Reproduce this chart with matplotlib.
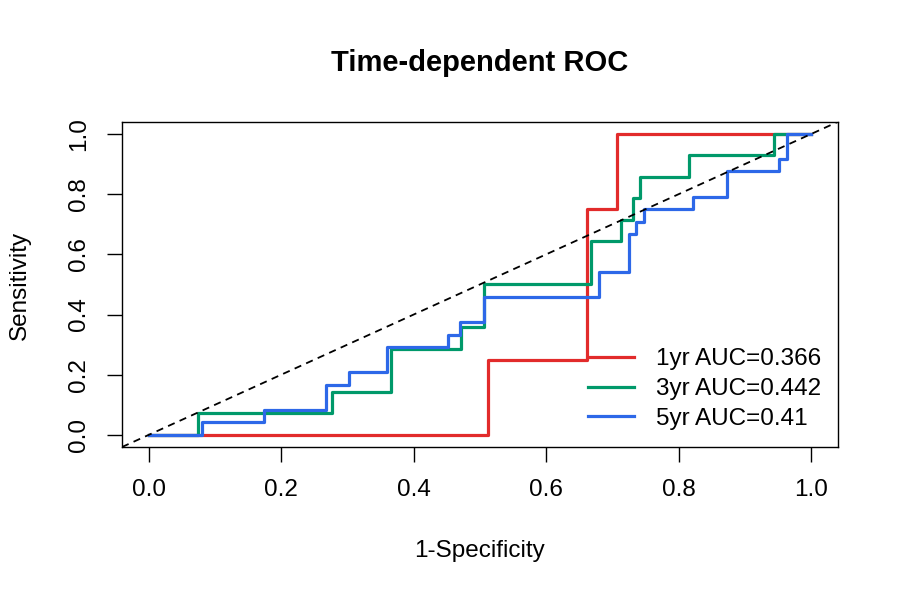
import matplotlib
matplotlib.use("Agg")
import matplotlib.pyplot as plt

plt.rcParams['font.family'] = ['Liberation Sans', 'DejaVu Sans']

# step points of each ROC curve (false positive rate, true positive rate)
fpr_1yr = [0.0, 0.512, 0.661, 0.706, 1.0]
tpr_1yr = [0.0, 0.25, 0.75, 1.0, 1.0]

fpr_3yr = [0.0, 0.074, 0.276, 0.366, 0.472, 0.506, 0.668, 0.713, 0.731, 0.741, 0.816, 0.944, 1.0]
tpr_3yr = [0.0, 1/14, 2/14, 4/14, 5/14, 7/14, 9/14, 10/14, 11/14, 12/14, 13/14, 1.0, 1.0]

fpr_5yr = [0.0, 0.081, 0.174, 0.267, 0.303, 0.359, 0.451, 0.470, 0.506, 0.680, 0.724,
           0.735, 0.747, 0.822, 0.872, 0.951, 0.963, 1.0]
tpr_5yr = [0.0, 1/24, 2/24, 4/24, 5/24, 7/24, 8/24, 9/24, 11/24, 13/24, 16/24,
           17/24, 18/24, 19/24, 21/24, 22/24, 1.0, 1.0]

labels = ['1yr AUC=0.366', '3yr AUC=0.442', '5yr AUC=0.41']
colors = ['#E22B2B', '#00996A', '#2D68E8']

fig = plt.figure(figsize=(9, 6), dpi=100)
ax = fig.add_axes([0.1356, 0.255, 0.7955, 0.542])

curves = [(fpr_1yr, tpr_1yr), (fpr_3yr, tpr_3yr), (fpr_5yr, tpr_5yr)]
for (fx, ty), col, lab in zip(curves, colors, labels):
    ax.plot(fx, ty, drawstyle='steps-post', color=col, lw=2.3, label=lab)

ax.axline((0, 0), (1, 1), color='black', lw=1.3, linestyle=(0, (4, 3)))

ax.set_xlim(-0.04, 1.04)
ax.set_ylim(-0.04, 1.04)
ticks = [0.0, 0.2, 0.4, 0.6, 0.8, 1.0]
ax.set_xticks(ticks)
ax.set_yticks(ticks)
ax.set_xticklabels(['%.1f' % t for t in ticks])
ax.set_yticklabels(['%.1f' % t for t in ticks], rotation=90, va='center')
ax.tick_params(direction='out', length=11, width=1, labelsize=17.5, pad=12)
for s in ax.spines.values():
    s.set_linewidth(1)

ax.legend(loc='lower right', frameon=False, fontsize=17.5, handlelength=1.9,
          handletextpad=0.9, labelspacing=0.32, borderaxespad=0.3,
          bbox_to_anchor=(1.0, 0.0))

fig.text(0.5333, 1 - 63 / 600, 'Time-dependent ROC', ha='center', va='center',
         fontsize=21, fontweight='bold')
fig.text(0.5333, 1 - 551 / 600, '1-Specificity', ha='center', va='center', fontsize=17.5)
fig.text(20 / 900, 1 - 285 / 600, 'Sensitivity', ha='center', va='center',
         rotation=90, fontsize=17.5)

fig.savefig('out.png', dpi=100)
